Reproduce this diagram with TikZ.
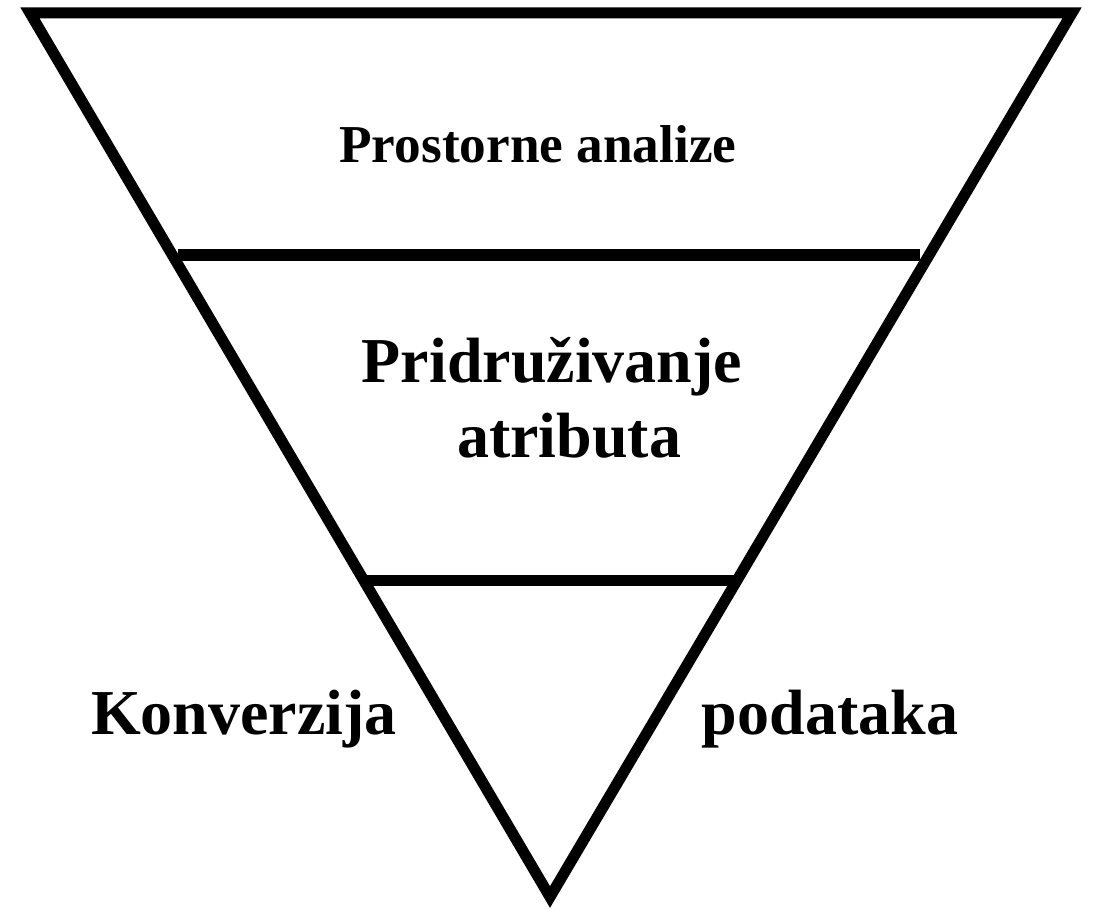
\documentclass[tikz,border=0pt]{standalone}
\usepackage{fontspec}
\setmainfont{Liberation Serif}
\begin{document}
\begin{tikzpicture}[x=1pt,y=-1pt,
  edge/.style={line width=11pt,line join=miter,black},
  lbl/.style={anchor=base,inner sep=0pt,font=\bfseries}]
\useasboundingbox (0,0) rectangle (1094,909);
\coordinate (A) at (30,13);
\coordinate (B) at (1072,13);
\coordinate (C) at (550,897);
\coordinate (L1) at (178,255);
\coordinate (R1) at (920,255);
\coordinate (L2) at (367,580);
\coordinate (R2) at (735,580);
\draw[edge] (A) -- (B) -- (C) -- cycle;
\draw[edge] (L1) -- (R1);
\draw[edge] (L2) -- (R2);
\node[lbl,font=\bfseries\fontsize{53.3}{60}\selectfont] (t1) at (538,163) {Prostorne analize};
\node[lbl,font=\bfseries\fontsize{64}{75}\selectfont] (t2) at (552,382) {Pridruživanje};
\node[lbl,font=\bfseries\fontsize{64}{75}\selectfont] (t3) at (569,457) {atributa};
\node[lbl,font=\bfseries\fontsize{64}{75}\selectfont] (t4) at (244,734) {Konverzija};
\node[lbl,font=\bfseries\fontsize{64}{75}\selectfont] (t5) at (830,734) {podataka};
\end{tikzpicture}
\end{document}
